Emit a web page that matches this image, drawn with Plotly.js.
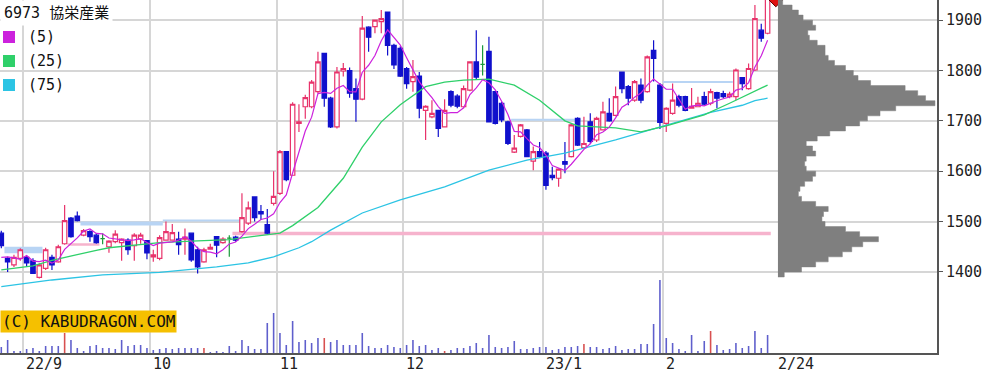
<!DOCTYPE html>
<html><head><meta charset="utf-8">
<script src="https://cdn.plot.ly/plotly-3.0.1.min.js"></script>
<style>html,body{margin:0;padding:0;background:#fff;}#chart{width:996px;height:385px;}</style>
</head><body><div id="chart"></div>
<script>
// ---- data (trading-day index 0 = 2022-08-26 ... 121 = 2023-02-24) ----
const openP = [1477,1427,1414,1427,1429,1422,1389,1407,1429,1420,1456,1507,1511,1473,1480,1473,1466,1450,1460,1458,
1463,1452,1465,1462,1430,1427,1463,1463,1465,1465,1477,1444,1420,1445,1470,1458,1467,1469,1480,1497,
1549,1520,1494,1536,1556,1639,1592,1695,1728,1728,1758,1834,1745,1688,1799,1800,1764,1743,1886,1887,
1897,1916,1850,1844,1804,1778,1789,1721,1708,1721,1688,1758,1749,1728,1761,1817,1812,1838,1758,1735,
1698,1638,1669,1682,1620,1639,1636,1592,1586,1619,1629,1705,1647,1698,1662,1682,1715,1711,1797,1768,
1741,1771,1758,1840,1771,1695,1715,1748,1748,1725,1728,1748,1735,1756,1754,1748,1748,1786,1764,1801,
1880,1874];
const highP = [1482,1430,1434,1447,1432,1427,1417,1448,1434,1454,1533,1509,1520,1485,1483,1477,1477,1463,1483,1467,
1467,1477,1478,1463,1444,1473,1500,1495,1480,1486,1477,1450,1448,1456,1471,1469,1473,1472,1556,1540,
1550,1533,1525,1600,1642,1640,1737,1733,1752,1781,1837,1834,1748,1807,1815,1806,1784,1908,1888,1901,
1920,1917,1853,1848,1807,1821,1797,1731,1741,1721,1743,1761,1753,1770,1818,1880,1850,1867,1760,1738,
1700,1672,1694,1684,1649,1658,1640,1609,1606,1658,1695,1707,1708,1715,1708,1738,1745,1768,1797,1771,
1781,1784,1830,1860,1775,1727,1774,1752,1750,1765,1748,1758,1764,1758,1760,1758,1804,1787,1814,1930,
1893,1960];
const lowP = [1447,1400,1410,1422,1410,1396,1387,1404,1404,1418,1454,1468,1500,1471,1460,1456,1455,1438,1457,1422,
1434,1422,1456,1425,1420,1423,1462,1462,1434,1434,1420,1397,1418,1444,1429,1456,1430,1460,1478,1493,
1500,1503,1475,1532,1553,1580,1591,1678,1704,1725,1755,1728,1686,1685,1788,1746,1698,1741,1837,1874,
1874,1830,1803,1787,1764,1758,1705,1662,1705,1668,1688,1727,1725,1725,1759,1781,1790,1698,1693,1697,
1652,1636,1667,1628,1602,1626,1563,1582,1569,1596,1627,1650,1645,1655,1658,1682,1698,1709,1755,1731,
1738,1735,1756,1778,1684,1678,1712,1727,1719,1725,1727,1731,1731,1725,1745,1745,1741,1761,1762,1799,
1857,1872];
const closeP = [1452,1420,1429,1444,1418,1397,1414,1444,1414,1450,1502,1470,1502,1482,1470,1458,1466,1461,1475,1465,
1444,1473,1473,1438,1434,1468,1480,1478,1454,1469,1424,1410,1444,1449,1453,1465,1467,1463,1508,1527,
1508,1515,1477,1550,1639,1583,1733,1698,1746,1777,1817,1745,1688,1797,1804,1755,1743,1884,1866,1900,
1903,1850,1811,1789,1774,1788,1725,1729,1715,1685,1721,1731,1729,1764,1817,1787,1812,1698,1695,1702,
1655,1646,1692,1629,1639,1629,1572,1587,1604,1614,1692,1652,1655,1659,1705,1718,1700,1748,1764,1745,
1778,1741,1827,1824,1697,1725,1741,1731,1721,1729,1735,1733,1758,1745,1748,1753,1801,1774,1804,1903,
1864,1955];
// volume (estimated, relative units)
const volume = [6,13,2,2,4,5,2,7,7,7,20,13,5,2,7,8,5,5,4,13,
7,8,8,5,3,4,5,4,5,5,5,5,5,1,2,1,7,2,13,7,
4,4,30,40,20,8,32,11,13,10,15,15,11,13,8,8,8,20,7,5,
5,8,6,5,8,13,7,8,3,5,2,3,5,5,7,10,5,18,6,5,
6,12,4,4,5,6,6,3,4,6,6,7,9,6,6,4,5,7,3,4,
4,9,9,29,73,15,10,4,2,18,2,12,22,8,3,4,10,5,7,22,
5,18];
const volumeRedIdx = [10,32,51,70,92,112];
// first MA(5) values (prior closes not shown)
const ma5Head = [1429,1430,1428,1425];
const ma25Idx = [0,5,8,11,15,17,21,25,30,36,39,42,44,46,49,50,54,57,60,63,67,70,73,77,81,85,89,91,97,101,105,111,115,119,121];
const ma25Val = [1404,1412,1423,1432,1443,1448,1453,1458,1461,1464,1469,1473,1477,1492,1520,1528,1586,1648,1698,1732,1768,1777,1781,1783,1771,1741,1700,1690,1686,1678,1690,1712,1735,1758,1771];
const ma75Idx = [0,8,16,25,34,39,43,47,49,52,57,63,70,77,83,89,97,104,112,117,119,121];
const ma75Val = [1371,1384,1394,1399,1410,1418,1430,1448,1460,1483,1517,1543,1569,1602,1622,1636,1662,1688,1717,1731,1740,1745];
// price-volume profile (bin centre, relative volume), 10-yen bins
const profilePrice = [1395,1405,1415,1425,1435,1445,1455,1465,1475,1485,1495,1505,1515,1525,1535,1545,1555,1565,1575,1585,
1595,1605,1615,1625,1635,1645,1655,1665,1675,1685,1695,1705,1715,1725,1735,1745,1755,1765,1775,1785,
1795,1805,1815,1825,1835,1845,1855,1865,1875,1885,1895,1905,1915,1925,1935];
const profileVol = [4,15,24,32,41,47,54,64,52,43,30,28,29,32,24,15,13,14,17,22,
24,18,17,18,24,22,18,25,33,43,52,57,65,75,100,94,89,81,59,51,
48,43,36,32,30,30,25,20,19,24,22,16,13,9,3];
const profileBin = 10;
// zones (candle index from/to, price low/high, kind)
const zoneFrom = [1,13,26,11,37,81,105];
const zoneTo   = [6,25,38,15,121,91,115];
const zoneLow  = [1437,1492,1502,1452,1473,1702,1777];
const zoneHigh = [1450,1500,1502,1457,1480,1702,1777];
const zoneKind = ['up','up','up','down','down','up','up'];
// labels
const monthStartIdx = [4,24,44,64,86,105];
const monthLabels = ['22/9','10','11','12','23/1','2'];
const lastLabel = '2/24';
const titleText = '6973 協栄産業';
const maLabels = ['(5)','(25)','(75)'];

// ---- build ----
const idx = openP.map((_, i) => i);
const isDoji = i => openP[i] === closeP[i];
const nIdx = idx.filter(i => !isDoji(i));
const dIdx = idx.filter(i => isDoji(i));
const pick = (arr, ids) => ids.map(i => arr[i]);
const ma5 = idx.map(i => i < 4 ? ma5Head[i] : closeP.slice(i - 4, i + 1).reduce((a, b) => a + b, 0) / 5);

// step outline of the profile (each bin spans its price range)
const profX = [0], profY = [profilePrice[0] - profileBin / 2];
profilePrice.forEach((p, k) => {
  profX.push(profileVol[k], profileVol[k]);
  profY.push(p - profileBin / 2, p + profileBin / 2);
});
profX.push(0); profY.push(profilePrice[profilePrice.length - 1] + profileBin / 2);

const UP = '#e8336b', DOWN = '#1010cc';
const C5 = '#cc22dd', C25 = '#2fd06a', C75 = '#2cc4e4';
const mono = 'DejaVu Sans Mono, Noto Sans CJK JP, monospace';

const vBlue = idx.filter(i => !volumeRedIdx.includes(i));
const traces = [
  {type:'bar', x:vBlue, y:pick(volume, vBlue), xaxis:'x', yaxis:'y2', width:0.25,
   marker:{color:'#5f5fcc', line:{width:0}}, hoverinfo:'skip'},
  {type:'bar', x:volumeRedIdx, y:pick(volume, volumeRedIdx), xaxis:'x', yaxis:'y2', width:0.25,
   marker:{color:'#d85050', line:{width:0}}, hoverinfo:'skip'},
  {type:'scatter', mode:'lines', x:profX, y:profY, xaxis:'x2', yaxis:'y', fill:'toself',
   fillcolor:'#7f7f7f', line:{color:'#7f7f7f', width:0.5}, hoverinfo:'skip'},
  {type:'candlestick', x:nIdx, open:pick(openP,nIdx), high:pick(highP,nIdx), low:pick(lowP,nIdx), close:pick(closeP,nIdx),
   increasing:{line:{color:UP, width:1.2}, fillcolor:'#ffffff'},
   decreasing:{line:{color:DOWN, width:1.2}, fillcolor:DOWN}, whiskerwidth:0, hoverinfo:'skip'},
  {type:'candlestick', x:dIdx, open:pick(openP,dIdx), high:pick(highP,dIdx), low:pick(lowP,dIdx), close:pick(closeP,dIdx),
   increasing:{line:{color:'#1a9a3a', width:1.2}, fillcolor:'#1a9a3a'},
   decreasing:{line:{color:'#1a9a3a', width:1.2}, fillcolor:'#1a9a3a'}, whiskerwidth:0, hoverinfo:'skip'},
  {type:'scatter', mode:'lines', x:ma75Idx, y:ma75Val, line:{color:C75, width:1.3}, hoverinfo:'skip'},
  {type:'scatter', mode:'lines', x:ma25Idx, y:ma25Val, line:{color:C25, width:1.3}, hoverinfo:'skip'},
  {type:'scatter', mode:'lines', x:idx, y:ma5, line:{color:C5, width:1.2}, hoverinfo:'skip'},
  {type:'scatter', mode:'markers', x:[idx[idx.length-1] + 1.3], y:[highP[highP.length-1] - 18], cliponaxis:true,
   marker:{symbol:'diamond', size:12, color:'#e01010', line:{color:'#600000', width:1}}, hoverinfo:'skip'}
];

const shapes = [];
zoneFrom.forEach((f, k) => {
  const col = zoneKind[k] === 'up' ? '#b8d4f4' : '#f6b3cd';
  if (zoneHigh[k] > zoneLow[k]) {
    shapes.push({type:'rect', layer:'between', xref:'x', yref:'y', x0:f - 0.5, x1:zoneTo[k] + 0.5,
      y0:zoneLow[k], y1:zoneHigh[k], fillcolor:col, line:{width:0}});
  } else {
    shapes.push({type:'line', layer:'between', xref:'x', yref:'y', x0:f - 0.5, x1:zoneTo[k] + 0.5,
      y0:zoneLow[k], y1:zoneLow[k], line:{color:col, width:2}});
  }
});
[C5, C25, C75].forEach((c, k) => {
  shapes.push({type:'rect', xref:'paper', yref:'paper', xsizemode:'pixel', ysizemode:'pixel',
    xanchor:0, yanchor:1, x0:3, x1:15, y0:-31 - 24*k, y1:-43 - 24*k, fillcolor:c, line:{width:0}});
});

const annotations = [
  {xref:'paper', yref:'paper', x:0, y:1, xanchor:'left', yanchor:'top', text:titleText, showarrow:false,
   bgcolor:'#ffffff', borderpad:3, font:{family:mono, size:15, color:'#111'}},
  {xref:'paper', yref:'paper', x:0, y:0.088, xanchor:'left', yanchor:'middle', text:'(C) KABUDRAGON.COM', showarrow:false,
   bgcolor:'#f5c000', borderpad:1, font:{family:mono, size:16, color:'#111'}}
];
maLabels.forEach((t, k) => annotations.push({xref:'paper', yref:'paper', x:0, y:1, xshift:26, yshift:-37 - 24*k,
  xanchor:'left', yanchor:'middle', text:t, showarrow:false, font:{family:mono, size:15, color:'#111'}}));
monthStartIdx.forEach((m, k) => annotations.push({xref:'x', yref:'paper', x:m - 0.5, y:0, xshift:1, yshift:0,
  xanchor:'left', yanchor:'top', text:monthLabels[k], showarrow:false, font:{family:mono, size:15, color:'#222'}}));
annotations.push({xref:'x', yref:'paper', x:idx[idx.length-1], y:0, xshift:8, yshift:0,
  xanchor:'left', yanchor:'top', text:lastLabel, showarrow:false, font:{family:mono, size:15, color:'#222'}});

const layout = {
  width:996, height:385, margin:{l:0, r:59, t:0, b:32, pad:0},
  paper_bgcolor:'#ffffff', plot_bgcolor:'#ffffff', showlegend:false,
  barmode:'overlay', boxgap:0.3, boxgroupgap:0,
  xaxis:{range:[-0.205, 147.75], tickvals:monthStartIdx.map(m => m - 0.5), showticklabels:false, ticks:'',
    showgrid:true, gridcolor:'#d6d6d6', gridwidth:2, zeroline:false, showline:true, linecolor:'#555', linewidth:2,
    rangeslider:{visible:false}, fixedrange:true},
  yaxis:{side:'right', range:[1239, 1940], tickvals:[1400,1500,1600,1700,1800,1900], ticks:'outside', ticklen:4,
    tickcolor:'#555', showgrid:true, gridcolor:'#d6d6d6', gridwidth:2, zeroline:false, showline:true,
    linecolor:'#555', linewidth:2, tickfont:{family:mono, size:15, color:'#222'}, fixedrange:true},
  xaxis2:{overlaying:'x', range:[-495.5, 101.3], visible:false, fixedrange:true},
  yaxis2:{overlaying:'y', range:[0, 353], visible:false, fixedrange:true},
  shapes:shapes, annotations:annotations
};
Plotly.newPlot('chart', traces, layout, {displayModeBar:false, staticPlot:true});
</script></body></html>
